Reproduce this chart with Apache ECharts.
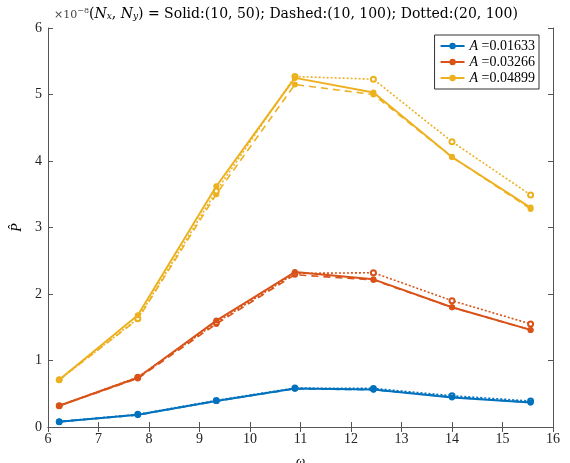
<!DOCTYPE html>
<html>
<head>
<meta charset="utf-8">
<script src="https://cdn.jsdelivr.net/npm/echarts@6/dist/echarts.min.js"></script>
<style>
  html, body { margin: 0; padding: 0; background: #fff; }
  #chart { width: 570px; height: 463px; }
</style>
</head>
<body>
<div id="chart"></div>
<script>
// omega values (x)
const omega = [6.222, 7.778, 9.333, 10.889, 12.444, 14.0, 15.556];

// values in units of 1e-8
const amps = ['0.01633', '0.03266', '0.04899'];
const colors = ['#0072BD', '#D95319', '#EDB120'];

const solid1 = [0.08, 0.185, 0.39, 0.58, 0.565, 0.445, 0.37];
const dashed1 = [0.08, 0.18, 0.39, 0.575, 0.56, 0.45, 0.37];
const dotted1 = [0.08, 0.19, 0.40, 0.585, 0.58, 0.47, 0.39];

const solid2 = [0.32, 0.74, 1.60, 2.33, 2.22, 1.80, 1.46];
const dashed2 = [0.32, 0.73, 1.55, 2.29, 2.21, 1.80, 1.46];
const dotted2 = [0.32, 0.75, 1.57, 2.31, 2.32, 1.90, 1.55];

const solid3 = [0.71, 1.68, 3.62, 5.25, 5.03, 4.06, 3.30];
const dashed3 = [0.71, 1.62, 3.50, 5.15, 5.00, 4.06, 3.28];
const dotted3 = [0.71, 1.63, 3.55, 5.27, 5.23, 4.29, 3.49];

const xTicks = [6, 7, 8, 9, 10, 11, 12, 13, 14, 15, 16];
const yTicks = [0, 1, 2, 3, 4, 5, 6];

const groups = [
  [solid1, dashed1, dotted1],
  [solid2, dashed2, dotted2],
  [solid3, dashed3, dotted3]
];

const font = 'Liberation Serif';
const tfont = 'DejaVu Serif';
const axisColor = '#555';

const pairs = arr => arr.map((v, i) => [omega[i], v]);

const series = [];
groups.forEach((g, k) => {
  series.push({
    name: 'A' + k, type: 'line', data: pairs(g[0]),
    symbol: 'circle', symbolSize: 6, color: colors[k],
    lineStyle: { width: 2, type: 'solid' }, z: 3
  });
  series.push({
    name: 'A' + k + 'd', type: 'line', data: pairs(g[1]),
    symbol: 'circle', symbolSize: 6, color: colors[k],
    lineStyle: { width: 1.6, type: [7, 5] }, z: 2
  });
  series.push({
    name: 'A' + k + 't', type: 'line', data: pairs(g[2]),
    symbol: 'emptyCircle', symbolSize: 5, color: colors[k],
    itemStyle: { borderWidth: 1.5 },
    lineStyle: { width: 1.6, type: [2, 2] }, z: 2
  });
});

const chart = echarts.init(document.getElementById('chart'));
chart.setOption({
  animation: false,
  textStyle: { fontFamily: font },
  title: {
    text: '{s|×10}{sup|−8}{m|(}{i|N}{sub|x}{m|, }{i|N}{sub|y}{m|) = Solid:(10, 50); Dashed:(10, 100); Dotted:(20, 100)}',
    left: 49, top: 2,
    textStyle: {
      fontWeight: 'normal',
      rich: {
        s: { fontFamily: tfont, fontSize: 11, fontWeight: 'normal', color: '#444', verticalAlign: 'bottom' },
        sup: { fontFamily: tfont, fontSize: 8, fontWeight: 'normal', color: '#444', verticalAlign: 'top' },
        m: { fontFamily: tfont, fontSize: 14, fontWeight: 'normal', color: '#000' },
        i: { fontFamily: tfont, fontSize: 14, fontWeight: 'normal', fontStyle: 'italic', color: '#000' },
        sub: { fontFamily: tfont, fontSize: 9, fontWeight: 'normal', fontStyle: 'italic', color: '#000', verticalAlign: 'bottom' }
      }
    }
  },
  legend: {
    data: ['A0', 'A1', 'A2'],
    orient: 'vertical',
    right: 31, top: 35,
    backgroundColor: '#fff',
    borderColor: '#333', borderWidth: 1,
    padding: [4, 4, 4, 5],
    itemGap: 2,
    itemWidth: 24, itemHeight: 8,
    formatter: name => '{i|A} =' + amps[+name.slice(1)],
    textStyle: {
      fontFamily: font, fontSize: 14, color: '#000',
      rich: { i: { fontFamily: font, fontSize: 14, fontStyle: 'italic', color: '#000' } }
    }
  },
  grid: { left: 48, right: 17, top: 28, bottom: 36, outerBoundsMode: 'none' },
  xAxis: [{
    type: 'value', min: 6, max: 16, interval: 1,
    name: 'ω', nameLocation: 'middle', nameGap: 28,
    nameTextStyle: { fontFamily: font, fontSize: 13, fontStyle: 'italic', color: '#000' },
    axisLine: { lineStyle: { color: axisColor } },
    axisTick: { inside: true, length: 5, lineStyle: { color: axisColor } },
    axisLabel: { fontFamily: font, fontSize: 14, color: '#222', margin: 5,
      customValues: xTicks },
    splitLine: { show: false }
  }, {
    type: 'value', min: 6, max: 16, interval: 1, position: 'top',
    axisLine: { show: true, lineStyle: { color: axisColor } },
    axisTick: { inside: true, length: 5, lineStyle: { color: axisColor } },
    axisLabel: { show: false }, splitLine: { show: false }
  }],
  yAxis: [{
    type: 'value', min: 0, max: 6, interval: 1,
    name: 'P\u0302', nameLocation: 'middle', nameGap: 22, nameRotate: 90,
    nameTextStyle: { fontFamily: font, fontSize: 14, fontStyle: 'italic', color: '#000' },
    axisLine: { show: true, lineStyle: { color: axisColor } },
    axisTick: { show: true, inside: true, length: 5, lineStyle: { color: axisColor } },
    axisLabel: { fontFamily: font, fontSize: 14, color: '#222', margin: 6,
      customValues: yTicks },
    splitLine: { show: false }
  }, {
    type: 'value', min: 0, max: 6, interval: 1, position: 'right',
    axisLine: { show: true, lineStyle: { color: axisColor } },
    axisTick: { show: true, inside: true, length: 5, lineStyle: { color: axisColor } },
    axisLabel: { show: false }, splitLine: { show: false }
  }],
  series: series
});
</script>
</body>
</html>
